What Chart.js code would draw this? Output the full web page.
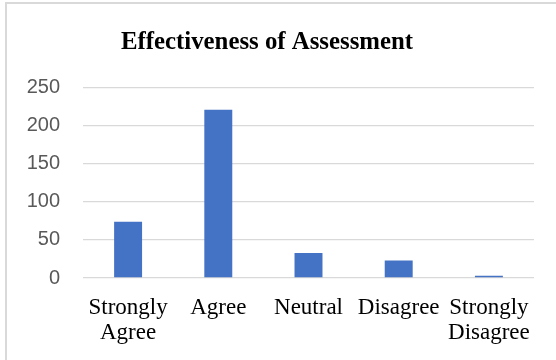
<!DOCTYPE html>
<html>
<head>
<meta charset="utf-8">
<script src="https://cdn.jsdelivr.net/npm/chart.js@4"></script>
<style>
  html, body { margin: 0; padding: 0; background: #fff; }
  #frame {
    position: absolute; left: 5px; top: 2px; width: 600px; height: 400px;
    border: 2px solid #d9d9d9; box-sizing: border-box;
  }
  #wrap { position: absolute; left: 0; top: 0; width: 556px; height: 360px; }
</style>
</head>
<body>
<div id="frame"></div>
<div id="wrap"><canvas id="chart" width="556" height="360"></canvas></div>
<script>
// data
const categories = [["Strongly", "Agree"], "Agree", "Neutral", "Disagree", ["Strongly", "Disagree"]];
const responses = [74, 221, 33, 23, 3];
const yTicks = [0, 50, 100, 150, 200, 250];

const serif = "'Liberation Serif', 'Times New Roman', serif";
const sans = "'Liberation Sans', Arial, sans-serif";

new Chart(document.getElementById("chart"), {
  type: "bar",
  data: {
    labels: categories,
    datasets: [{
      label: "Responses",
      data: responses,
      backgroundColor: "#4472C4",
      barPercentage: 0.31,
      categoryPercentage: 1
    }]
  },
  options: {
    responsive: false,
    animation: false,
    layout: { padding: { left: 0, right: 22, top: 0, bottom: 0 } },
    plugins: {
      legend: { display: false },
      tooltip: { enabled: false },
      title: {
        display: true,
        text: "Effectiveness of Assessment",
        color: "#000",
        font: { family: serif, size: 24.8, weight: "bold", lineHeight: 1.2 },
        padding: { top: 27.5, bottom: 30.5 }
      }
    },
    scales: {
      x: {
        afterFit: s => { s.height = 82; },
        grid: { display: false, drawTicks: false },
        border: { display: false },
        ticks: {
          color: "#000",
          padding: 17,
          maxRotation: 0,
          autoSkip: false,
          font: { family: serif, size: 23, lineHeight: 1.1 }
        }
      },
      y: {
        min: yTicks[0],
        max: yTicks[yTicks.length - 1],
        afterBuildTicks: s => { s.ticks = yTicks.map(v => ({ value: v })); },
        afterFit: s => { s.width = 83; },
        grid: { color: "#d9d9d9", lineWidth: 1.3, drawTicks: false },
        border: { display: false },
        ticks: {
          color: "#595959",
          padding: 23,
          font: { family: sans, size: 20 }
        }
      }
    }
  }
});
</script>
</body>
</html>
